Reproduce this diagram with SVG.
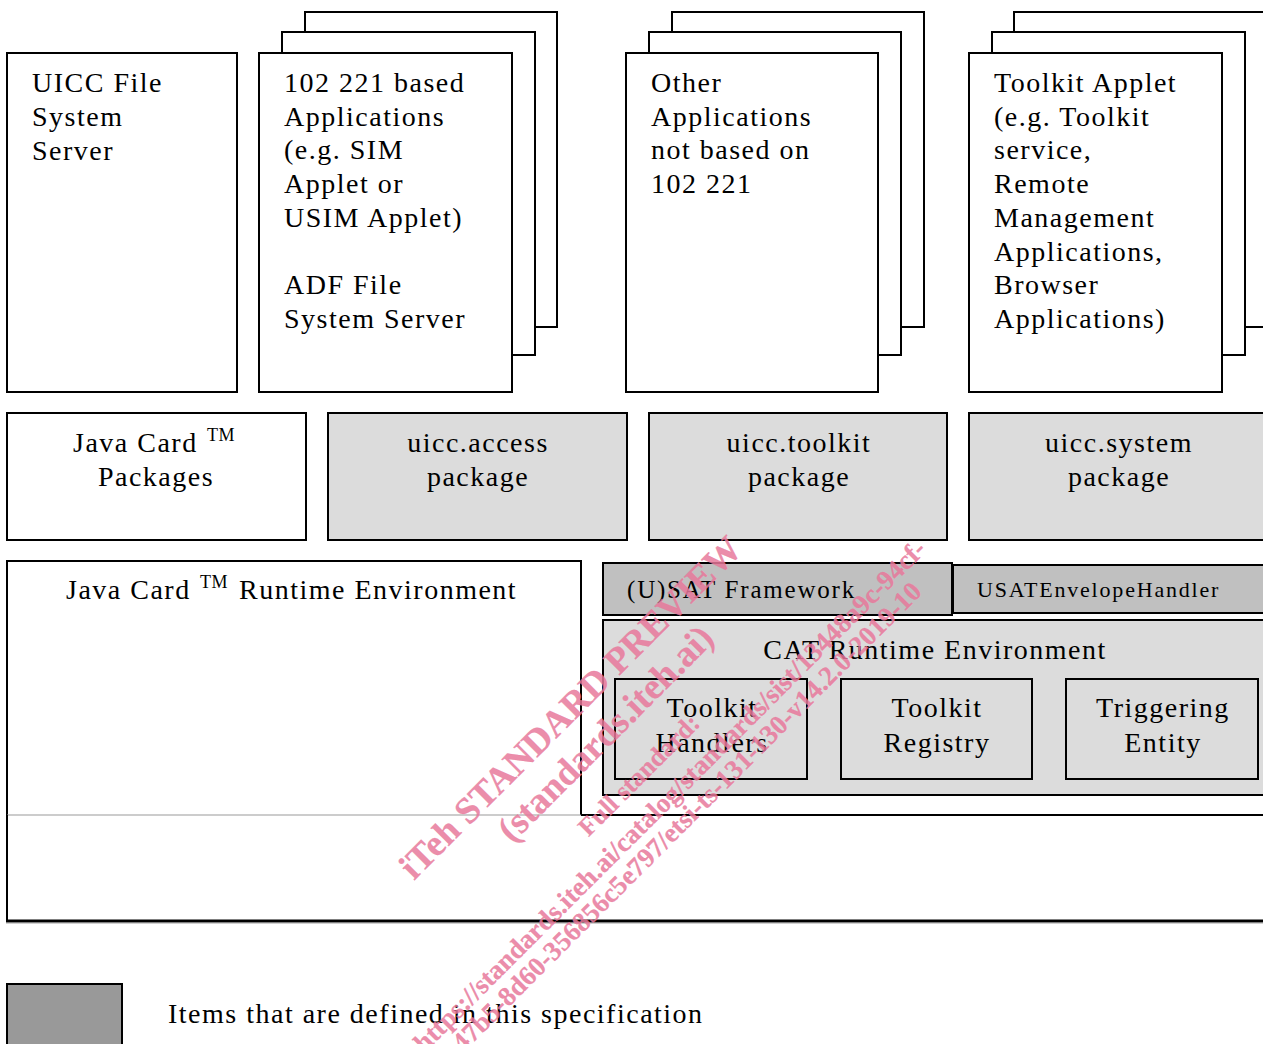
<svg xmlns="http://www.w3.org/2000/svg" width="1263" height="1044" viewBox="0 0 1263 1044">
<style>
text { font-family: "Liberation Serif", "Times New Roman", serif; fill: #000; }
.t { font-size: 28px; letter-spacing: 1.5px; }
.s { font-size: 25px; letter-spacing: 1.8px; }
.xs { font-size: 22px; letter-spacing: 1.8px; }
.tm { font-size: 18px; letter-spacing: 0.5px; }
.c { text-anchor: middle; }
.box { fill: #fff; stroke: #000; stroke-width: 2; }
.lg { fill: #dcdcdc; stroke: #000; stroke-width: 2; }
.dg { fill: #c0c0c0; stroke: #000; stroke-width: 2; }
.leg { fill: #999; stroke: #000; stroke-width: 2; }
.ln { fill: none; stroke: #000; stroke-width: 2; }
.wm text { font-weight: bold; fill: #e8789b; fill-opacity: 0.85; stroke: #e8789b; stroke-opacity: 0.6; stroke-width: 0.4; text-anchor: middle; letter-spacing: 0; }
</style>

<g id="uicc-fs-server">
  <rect class="box" x="7" y="53" width="230" height="339"/>
  <text class="t" x="32" y="92">UICC File</text>
  <text class="t" x="32" y="126">System</text>
  <text class="t" x="32" y="160">Server</text>
</g>

<g id="apps-102221">
  <rect class="box" x="305" y="12" width="252" height="315"/>
  <rect class="box" x="282" y="32" width="253" height="323"/>
  <rect class="box" x="259" y="53" width="253" height="339"/>
  <text class="t" x="284" y="92">102 221 based</text>
  <text class="t" x="284" y="126">Applications</text>
  <text class="t" x="284" y="159">(e.g. SIM</text>
  <text class="t" x="284" y="193">Applet or</text>
  <text class="t" x="284" y="227">USIM Applet)</text>
  <text class="t" x="284" y="294">ADF File</text>
  <text class="t" x="284" y="328">System Server</text>
</g>

<g id="other-apps">
  <rect class="box" x="672" y="12" width="252" height="315"/>
  <rect class="box" x="649" y="32" width="252" height="323"/>
  <rect class="box" x="626" y="53" width="252" height="339"/>
  <text class="t" x="651" y="92">Other</text>
  <text class="t" x="651" y="126">Applications</text>
  <text class="t" x="651" y="159">not based on</text>
  <text class="t" x="651" y="193">102 221</text>
</g>

<g id="toolkit-applet">
  <rect class="box" x="1014" y="12" width="260" height="315"/>
  <rect class="box" x="992" y="32" width="253" height="323"/>
  <rect class="box" x="969" y="53" width="253" height="339"/>
  <text class="t" x="994" y="92">Toolkit Applet</text>
  <text class="t" x="994" y="126">(e.g. Toolkit</text>
  <text class="t" x="994" y="159">service,</text>
  <text class="t" x="994" y="193">Remote</text>
  <text class="t" x="994" y="227">Management</text>
  <text class="t" x="994" y="261">Applications,</text>
  <text class="t" x="994" y="294">Browser</text>
  <text class="t" x="994" y="328">Applications)</text>
</g>

<g id="javacard-packages">
  <rect class="box" x="7" y="413" width="299" height="127"/>
  <text class="t" x="73" y="452">Java Card</text>
  <text class="tm" x="207" y="441">TM</text>
  <text class="t c" x="156" y="486">Packages</text>
</g>

<g id="uicc-access">
  <rect class="lg" x="328" y="413" width="299" height="127"/>
  <text class="t c" x="478" y="452">uicc.access</text>
  <text class="t c" x="478" y="486">package</text>
</g>

<g id="uicc-toolkit">
  <rect class="lg" x="649" y="413" width="298" height="127"/>
  <text class="t c" x="799" y="452">uicc.toolkit</text>
  <text class="t c" x="799" y="486">package</text>
</g>

<g id="uicc-system">
  <rect class="lg" x="969" y="413" width="310" height="127"/>
  <text class="t c" x="1119" y="452">uicc.system</text>
  <text class="t c" x="1119" y="486">package</text>
</g>

<g id="jcre">
  <path class="ln" d="M7,815 V561 H581 V815"/>
  <line x1="7" y1="815" x2="581" y2="815" stroke="#999" stroke-width="1.2"/>
  <text class="t" x="66" y="599">Java Card</text>
  <text class="tm" x="200" y="588">TM</text>
  <text class="t" x="239" y="599" letter-spacing="1.7">Runtime Environment</text>
</g>

<g id="jcre-lower">
  <line x1="581" y1="815" x2="1270" y2="815" stroke="#000" stroke-width="2"/>
  <line x1="7" y1="815" x2="7" y2="921" stroke="#000" stroke-width="2"/>
  <line x1="6" y1="921" x2="1270" y2="921" stroke="#000" stroke-width="3"/>
  <line x1="6" y1="923.5" x2="1270" y2="923.5" stroke="#d0d0d0" stroke-width="1"/>
</g>

<g id="usat-framework">
  <rect class="dg" x="603" y="563" width="349" height="52"/>
  <text class="s" x="627" y="598">(U)SAT Framework</text>
</g>

<g id="usat-envelope-handler">
  <rect class="dg" x="953" y="565" width="320" height="48" stroke-width="3"/>
  <text class="xs" x="977" y="597">USATEnvelopeHandler</text>
</g>

<g id="cat-re">
  <rect class="lg" x="603" y="620" width="670" height="175"/>
  <text class="t c" x="935" y="659">CAT Runtime Environment</text>
</g>

<g id="toolkit-handlers">
  <rect class="lg" x="615" y="679" width="192" height="100"/>
  <text class="t c" x="712" y="717">Toolkit</text>
  <text class="t c" x="712" y="752">Handlers</text>
</g>

<g id="toolkit-registry">
  <rect class="lg" x="841" y="679" width="191" height="100"/>
  <text class="t c" x="937" y="717">Toolkit</text>
  <text class="t c" x="937" y="752">Registry</text>
</g>

<g id="triggering-entity">
  <rect class="lg" x="1066" y="679" width="192" height="100"/>
  <text class="t c" x="1163" y="717">Triggering</text>
  <text class="t c" x="1163" y="752">Entity</text>
</g>

<g id="legend">
  <rect class="leg" x="7" y="984" width="115" height="70"/>
  <text class="t" x="168" y="1023">Items that are defined in this specification</text>
</g>

<g id="connectors"></g>

<g class="wm" id="watermark">
  <text x="579" y="716" font-size="37" transform="rotate(-45 579 716)">iTeh STANDARD PREVIEW</text>
  <text x="614" y="742" font-size="37" transform="rotate(-45 614 742)">(standards.iteh.ai)</text>
  <text x="645" y="781" font-size="26" transform="rotate(-45 645 781)">Full standard:</text>
  <text x="676" y="802" font-size="27" transform="rotate(-45 676 802)">https://standards.iteh.ai/catalog/standards/sist/13448a9c-94cf-</text>
  <text x="693" y="823" font-size="27" transform="rotate(-45 693 823)">47b5-8d60-356856c5e797/etsi-ts-131-130-v14.2.0-2019-10</text>
</g>
</svg>
